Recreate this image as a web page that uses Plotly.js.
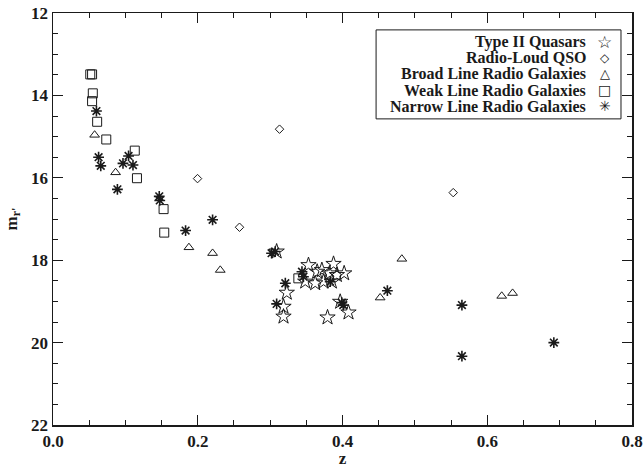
<!DOCTYPE html>
<html>
<head>
<meta charset="utf-8">
<script src="https://cdn.plot.ly/plotly-3.0.1.min.js"></script>
<style>html,body{margin:0;padding:0;background:#fff;}#chart{width:644px;height:468px;}</style>
</head>
<body>
<div id="chart"></div>
<script>
// ---- data ----
const seriesNames = ["Type II Quasars", "Radio-Loud QSO", "Broad Line Radio Galaxies", "Weak Line Radio Galaxies", "Narrow Line Radio Galaxies"];

const type2Z = [0.309, 0.353, 0.3715, 0.3876, 0.4023, 0.3485, 0.3623, 0.3738, 0.3853, 0.3922, 0.382, 0.365, 0.323, 0.3185, 0.3185, 0.3793, 0.3968, 0.4083];
const type2M = [17.79, 18.12, 18.24, 18.09, 18.32, 18.52, 18.56, 18.52, 18.52, 18.36, 18.32, 18.28, 18.79, 19.13, 19.37, 19.39, 19.01, 19.27];

const rlqZ = [0.1997, 0.2577, 0.313, 0.553];
const rlqM = [16.02, 17.20, 14.82, 16.36];

const blrgZ = [0.0575, 0.0865, 0.1878, 0.2205, 0.2311, 0.482, 0.452, 0.620, 0.635];
const blrgM = [14.96, 15.87, 17.69, 17.83, 18.24, 17.97, 18.91, 18.87, 18.80];

const wlrgZ = [0.0515, 0.054, 0.055, 0.054, 0.061, 0.0736, 0.113, 0.116, 0.1528, 0.1537, 0.339];
const wlrgM = [13.49, 13.49, 13.95, 14.14, 14.64, 15.07, 15.34, 16.01, 16.76, 17.33, 18.44];

const nlrgZ = [0.060, 0.063, 0.066, 0.0967, 0.1044, 0.1105, 0.089, 0.1468, 0.1475, 0.2205, 0.1832, 0.302, 0.307, 0.344, 0.346, 0.383, 0.321, 0.309, 0.399, 0.401, 0.462, 0.565, 0.565, 0.692];
const nlrgM = [14.38, 15.50, 15.71, 15.65, 15.47, 15.69, 16.28, 16.45, 16.55, 17.02, 17.28, 17.83, 17.79, 18.28, 18.40, 18.52, 18.56, 19.06, 19.03, 19.09, 18.74, 19.09, 20.33, 20.00];

const xTickVals = [0, 0.2, 0.4, 0.6, 0.8];
const xTickText = ["0.0", "0.2", "0.4", "0.6", "0.8"];
const yTickVals = [12, 14, 16, 18, 20, 22];
const yTickText = ["12", "14", "16", "18", "20", "22"];
const legendSymbols = ["\u2606", "\u25C7", "\u25B3", "\u25A1", "\u2733"];

// ---- styling ----
const ink = "#1a1a1a";
const serif = "Liberation Serif, Times New Roman, serif";
const symbolSizes = [17, 12, 13, 14, 14];

function trace(x, y, name, symbol, size, lw) {
  return {
    type: "scatter", mode: "markers", x: x, y: y, name: name,
    marker: {symbol: symbol, size: size, color: ink, line: {color: ink, width: lw}},
    showlegend: false, hoverinfo: "x+y+name"
  };
}

const data = [
  trace(type2Z, type2M, seriesNames[0], "star-open", 11.5, 1),
  trace(rlqZ, rlqM, seriesNames[1], "diamond-open", 6.5, 1),
  trace(blrgZ, blrgM, seriesNames[2], "triangle-up-open", 8.5, 1),
  trace(wlrgZ, wlrgM, seriesNames[3], "square-open", 9, 1),
  trace(nlrgZ, nlrgM, seriesNames[4], "asterisk-open", 9, 1.6)
];

// custom legend (text right-aligned, symbol on the right, like the reference)
const rowY = [0.930, 0.891, 0.852, 0.813, 0.774];
const annotations = [];
seriesNames.forEach(function (n, i) {
  annotations.push({
    xref: "paper", yref: "paper", x: 0.924, y: rowY[i], xanchor: "right", yanchor: "middle",
    text: n, showarrow: false,
    font: {family: serif, size: 16, color: ink, weight: "bold"}
  });
  annotations.push({
    xref: "paper", yref: "paper", x: 0.953, y: rowY[i], xanchor: "center", yanchor: "middle",
    text: legendSymbols[i], showarrow: false,
    font: {family: "DejaVu Sans", size: symbolSizes[i], color: ink}
  });
});

const axisCommon = {
  showline: true, linecolor: ink, linewidth: 1.5, mirror: "ticks",
  ticks: "inside", ticklen: 10, tickwidth: 1, tickcolor: ink,
  showgrid: false, zeroline: false,
  tickfont: {family: serif, size: 17, color: ink, weight: "bold"}
};

const layout = {
  width: 644, height: 468,
  margin: {l: 53, r: 12, t: 13, b: 43},
  paper_bgcolor: "#fff", plot_bgcolor: "#fff",
  showlegend: false,
  xaxis: Object.assign({}, axisCommon, {
    range: [0, 0.8], tickvals: xTickVals, ticktext: xTickText,
    minor: {dtick: 0.05, ticks: "inside", ticklen: 5, tickwidth: 1, tickcolor: ink},
    title: {text: "z", font: {family: serif, size: 17, color: ink, weight: "bold"}, standoff: 4}
  }),
  yaxis: Object.assign({}, axisCommon, {
    range: [22, 12], tickvals: yTickVals, ticktext: yTickText,
    minor: {dtick: 0.5, ticks: "inside", ticklen: 5, tickwidth: 1, tickcolor: ink},
    title: {text: "m<sub>r'</sub>", font: {family: serif, size: 17, color: ink, weight: "bold"}, standoff: 9}
  }),
  shapes: [{
    type: "rect", xref: "paper", yref: "paper",
    x0: 0.558, x1: 0.981, y0: 0.743, y1: 0.959,
    line: {color: ink, width: 1}, fillcolor: "#fff", layer: "above"
  }],
  annotations: annotations
};

Plotly.newPlot("chart", data, layout, {staticPlot: true, displayModeBar: false});
</script>
</body>
</html>
